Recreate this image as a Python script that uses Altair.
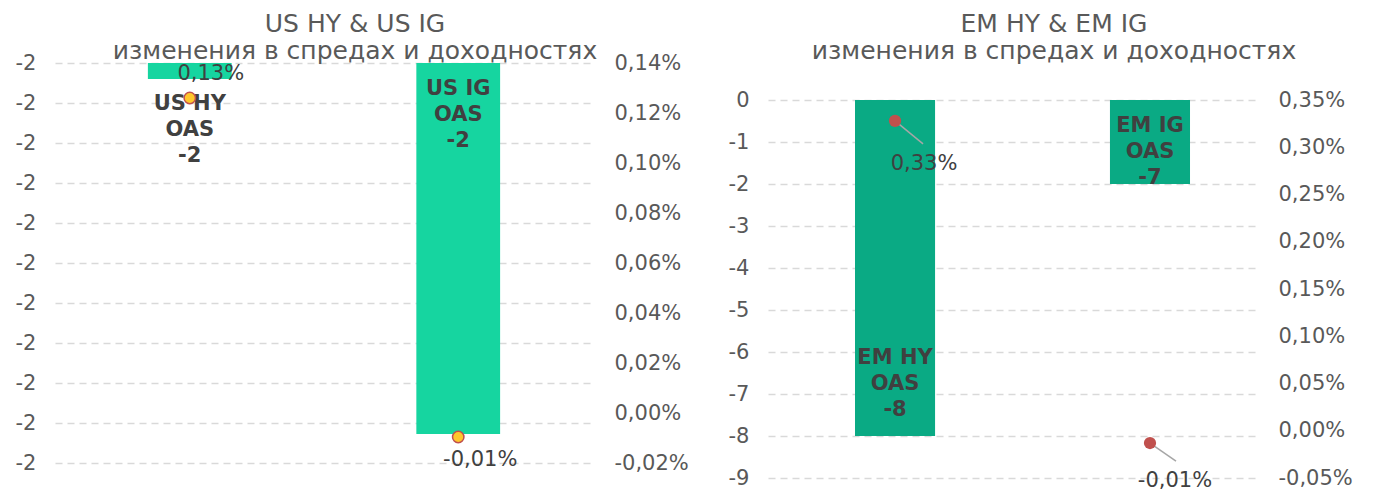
import altair as alt
import pandas as pd

FONT = "DejaVu Sans"

# ---------------- data ----------------
us_categories = ["US HY", "US IG"]
us_spread_change = [-1.586, -2.385]
us_spread_labels = [-2, -2]
us_yield_change = [0.126, -0.0096]
us_spread_ticks = [-1.55, -1.64, -1.73, -1.82, -1.91, -2.00, -2.09, -2.18, -2.27, -2.36, -2.45]
us_yield_ticks = [0.14, 0.12, 0.10, 0.08, 0.06, 0.04, 0.02, 0.0, -0.02]
us_title = "US HY & US IG\nизменения в спредах и доходностях"

em_categories = ["EM HY", "EM IG"]
em_spread_change = [-8, -2]
em_spread_labels = [-8, -7]
em_yield_change = [0.328, -0.013]
em_spread_ticks = [0, -1, -2, -3, -4, -5, -6, -7, -8, -9]
em_yield_ticks = [0.35, 0.30, 0.25, 0.20, 0.15, 0.10, 0.05, 0.0, -0.05]
em_title = "EM HY & EM IG\nизменения в спредах и доходностях"


def make_df(cats, spread, labels, yld):
    df = pd.DataFrame({"cat": cats, "spread": spread, "lab": labels, "yld": yld})
    df["bar_text"] = [f"{c}\nOAS\n{l}" for c, l in zip(cats, labels)]
    df["yld_text"] = [f"{v:.2f}".replace(".", ",") + "%" for v in yld]
    return df


us_df = make_df(us_categories, us_spread_change, us_spread_labels, us_yield_change)
em_df = make_df(em_categories, em_spread_change, em_spread_labels, em_yield_change)

PCT_EXPR = "(datum.value < 0 ? '-' : '') + replace(format(abs(datum.value), '.2f'), '.', ',') + '%'"


def panel(df, cats, title, bar_color, x_scale, sp_domain, sp_ticks, sp_label_expr,
          yl_domain, yl_ticks, top_val, bar_label_specs, point_specs, point_style,
          leader_specs, left_extent, right_extent, width, height, title_x):
    x = alt.X("cat:N", sort=cats, axis=None, scale=x_scale)

    def ys(field):
        return alt.Y(field, type="quantitative",
                     scale=alt.Scale(domain=sp_domain, nice=False, zero=False),
                     axis=alt.Axis(values=sp_ticks, labelExpr=sp_label_expr, grid=True,
                                   title=None, orient="left", labelPadding=19,
                                   minExtent=left_extent, maxExtent=left_extent))

    def yy(field):
        return alt.Y(field, type="quantitative",
                     scale=alt.Scale(domain=yl_domain, nice=False, zero=False),
                     axis=alt.Axis(values=yl_ticks, labelExpr=PCT_EXPR, grid=False,
                                   title=None, orient="right", labelPadding=21,
                                   minExtent=right_extent, maxExtent=right_extent))

    base = alt.Chart(df)
    bars = base.mark_bar(color=bar_color).encode(
        x=x, y=ys("spread"), y2=alt.datum(top_val)
    )
    spread_layers = [bars]
    for cat, anchor, dy in bar_label_specs:
        src = base.transform_filter(alt.datum.cat == cat)
        if anchor == "top":
            src = src.transform_calculate(anc=str(top_val))
        else:
            src = src.transform_calculate(anc="datum.spread")
        spread_layers.append(
            src.mark_text(font=FONT, fontSize=21, fontWeight="bold", color="#404040",
                          lineBreak="\n", lineHeight=26, baseline="middle",
                          align="center", dy=dy)
            .encode(x=x, y=ys("anc"), text="bar_text:N")
        )
    title_chart = alt.Chart(pd.DataFrame({"t": [title]})).mark_text(
        font=FONT, fontSize=25, color="#595959", lineBreak="\n", lineHeight=27,
        align="center", baseline="alphabetic"
    ).encode(x=alt.value(title_x), y=alt.value(-31), text="t:N")
    spread_layers.append(title_chart)

    yld_layers = [
        base.mark_point(filled=True, opacity=1, **point_style).encode(x=x, y=yy("yld"))
    ]
    for cat, dx, dy in point_specs:
        yld_layers.append(
            base.transform_filter(alt.datum.cat == cat)
            .mark_text(font=FONT, fontSize=21, color="#404040", baseline="middle",
                       align="center", dx=dx, dy=dy)
            .encode(x=x, y=yy("yld"), text="yld_text:N")
        )
    for cat, ox, oy in leader_specs:
        yld_layers.insert(
            0,
            base.transform_filter(alt.datum.cat == cat)
            .mark_rule(color="#A6A6A6", strokeWidth=1.5, x2Offset=ox, y2Offset=oy)
            .encode(x=x, x2=alt.X2("cat"), y=yy("yld"), y2=alt.Y2("yld"))
        )

    return alt.layer(alt.layer(*spread_layers), alt.layer(*yld_layers)).resolve_scale(
        y="independent"
    ).properties(width=width, height=height)


us_chart = panel(
    us_df, us_categories, us_title, "#16D5A0",
    alt.Scale(paddingInner=0.688, paddingOuter=0.346, align=0.5),
    [-2.48375, -1.55], us_spread_ticks,
    "'-' + format(abs(datum.value), '.0f')",
    [-0.026, 0.14], us_yield_ticks, -1.55,
    [("US HY", "top", 41), ("US IG", "top", 26)],
    [("US HY", 21, -24), ("US IG", 22, 23)],
    dict(size=130, fill="#FFC72C", stroke="#C0504D", strokeWidth=1.5),
    [],
    47, 100, 538, 415, 300,
)

em_chart = panel(
    em_df, em_categories, em_title, "#0AAA84",
    alt.Scale(paddingInner=0.686, paddingOuter=0.302, align=0.565),
    [-9, 0.881], em_spread_ticks,
    "(datum.value < 0 ? '-' : '') + format(abs(datum.value), 'd')",
    [-0.05, 0.3892], em_yield_ticks, 0,
    [("EM HY", "value", -78), ("EM IG", "top", 26)],
    [("EM HY", 29, 43), ("EM IG", 25, 38)],
    dict(size=150, fill="#C0504D", strokeWidth=0),
    [("EM HY", 28, 23), ("EM IG", 26, 18)],
    60, 100, 489, 415, 286,
)

chart = alt.hconcat(us_chart, em_chart, spacing=15).properties(
    padding={"left": 0, "top": 4, "right": 0, "bottom": 0}
).configure_view(strokeWidth=0).configure_axis(
    domain=False, ticks=False, labelFont=FONT, labelFontSize=21, labelColor="#595959",
    gridColor="#D9D9D9", gridDash=[7, 5], gridWidth=1.5
)

chart.save("out.html", embed_options={"renderer": "svg", "actions": False})
